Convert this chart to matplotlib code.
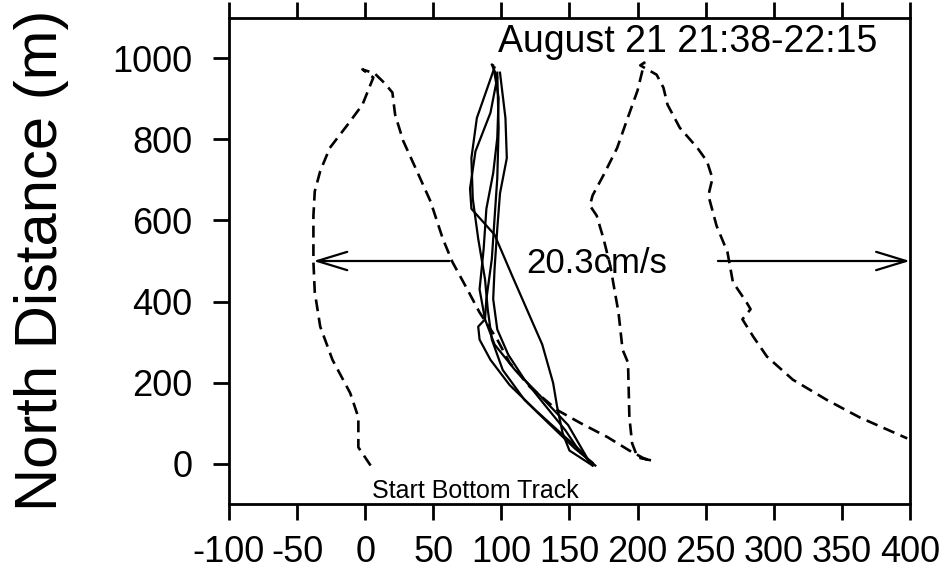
import matplotlib
matplotlib.use('Agg')
import matplotlib.pyplot as plt

# dashed ship track (east, north) in metres
ship_x = [4, -5, -5, -11, -24, -33, -37, -38, -38, -37, -33, -26, -13, -2, 6, -2, 7, 14, 20,
          22, 28, 38, 48, 57, 64, 75, 84, 97, 106, 121, 141, 158, 178, 194, 205, 211, 200,
          196, 194, 193, 189, 186, 183, 180, 175, 170, 165, 167, 175, 185, 192, 200, 205, 202,
          214, 219, 222, 231, 244, 251, 255, 252, 258, 266, 270, 280, 283, 277, 285, 295, 314,
          339, 363, 398]
ship_y = [-5, 40, 114, 174, 256, 338, 423, 498, 612, 672, 722, 779, 836, 886, 953, 973, 963, 940, 916,
          861, 796, 722, 647, 555, 498, 430, 373, 306, 249, 189, 132, 100, 65, 32, 12, 7, 15,
          50, 114, 249, 281, 373, 430, 488, 555, 612, 637, 662, 712, 779, 846, 921, 990, 983,
          960, 928, 886, 829, 779, 746, 704, 662, 587, 522, 448, 398, 381, 356, 313, 264, 207,
          157, 114, 62]

# solid bottom-track drifts
track1_x = [93, 97, 92, 81, 77, 78, 95, 108, 121, 130, 138, 141, 145, 150, 167]
track1_y = [985, 953, 866, 771, 679, 629, 565, 463, 363, 294, 199, 139, 75, 32, -5]
track2_x = [97, 98, 97, 95, 93, 89, 88, 83, 84, 92, 106, 125, 143, 158, 167]
track2_y = [965, 829, 704, 605, 505, 406, 356, 338, 306, 256, 194, 132, 77, 32, -5]
track3_x = [95, 82, 78, 79, 83, 88, 90, 93, 101, 117, 136, 154, 167]
track3_y = [978, 853, 754, 654, 555, 455, 381, 306, 231, 157, 95, 37, 2]
track4_x = [99, 103, 104, 99, 97, 95, 94, 97, 105, 117, 132, 147, 158, 169]
track4_y = [965, 853, 754, 667, 580, 480, 406, 331, 269, 207, 144, 82, 27, -5]
track5_x = [94, 98, 97, 94, 89, 87, 84, 88, 95, 110, 128, 149, 165]
track5_y = [983, 903, 804, 717, 629, 530, 430, 356, 294, 231, 169, 95, 2]
tracks = [(track1_x, track1_y), (track2_x, track2_y), (track3_x, track3_y),
          (track4_x, track4_y), (track5_x, track5_y)]

# scale arrows (tail, tip) at one northing
arrow_y = 500
arrow_left = (62, -38)
arrow_right = (259, 400)

xticks = list(range(-100, 401, 50))
yticks = list(range(0, 1001, 200))

plt.rcParams['font.family'] = 'Liberation Sans'
plt.rcParams['axes.unicode_minus'] = False

fig = plt.figure(figsize=(9.45, 5.73), dpi=100)
ax = fig.add_axes([0.2423, 0.1204, 0.7206, 0.8482])

ax.plot(ship_x, ship_y, color='black', lw=1.9, linestyle=(0, (4.5, 2.5)))
for tx, ty in tracks:
    ax.plot(tx, ty, color='black', lw=1.6)

astyle = dict(arrowstyle='->,head_length=1.8,head_width=0.55', mutation_scale=12,
              lw=1.6, color='black', shrinkA=0, shrinkB=0)
ax.annotate('', xy=(arrow_left[1], arrow_y), xytext=(arrow_left[0], arrow_y), arrowprops=astyle)
ax.annotate('', xy=(arrow_right[1], arrow_y), xytext=(arrow_right[0], arrow_y), arrowprops=astyle)

ax.text(170, 495, '20.3cm/s', fontsize=25, ha='center', va='center')
ax.text(81, -67, 'Start Bottom Track', fontsize=18, ha='center', va='center')
ax.text(376, 1040, 'August 21 21:38-22:15', fontsize=27, ha='right', va='center')

ax.set_xlim(-100, 400)
ax.set_ylim(-100, 1100)
ax.set_xticks(xticks)
ax.set_yticks(yticks)
ax.tick_params(axis='x', top=True, direction='out', length=11.5, width=2, pad=11)
ax.tick_params(axis='y', right=False, direction='out', length=11.5, width=2, pad=15)
for lab in ax.get_xticklabels() + ax.get_yticklabels():
    lab.set_fontsize(26)
for sp in ax.spines.values():
    sp.set_linewidth(2)

fig.text(42 / 945, 1 - 260 / 573, 'North Distance (m)', rotation=90, fontsize=43,
         ha='center', va='center')

fig.savefig('out.png', dpi=100)
